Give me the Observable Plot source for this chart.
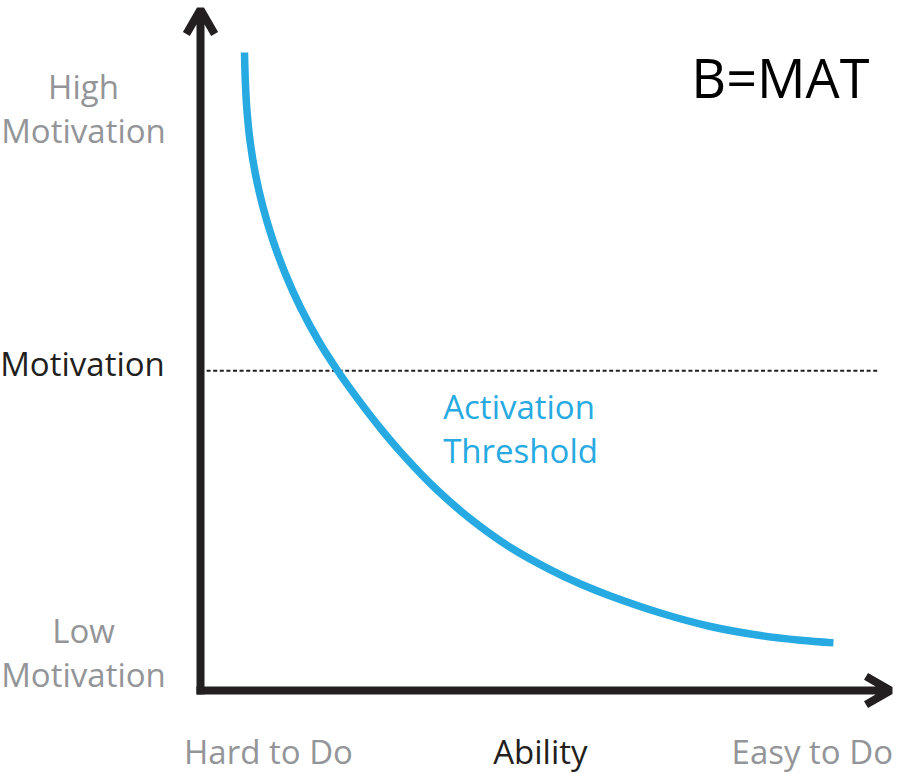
<!DOCTYPE html>
<html>
<head>
<meta charset="utf-8">
<script src="https://cdn.jsdelivr.net/npm/d3@7"></script>
<script src="https://cdn.jsdelivr.net/npm/@observablehq/plot@0.6"></script>
<style>
  html, body { margin: 0; padding: 0; background: #ffffff; }
  #chart svg { display: block; }
</style>
</head>
<body>
<div id="chart"></div>
<script>
// Activation threshold curve (ability 0–10, motivation 0–10)
const ability    = [0.647, 0.659, 0.680, 0.728, 0.806, 0.921, 1.066, 1.246, 1.471, 1.733, 2.015, 2.324, 2.648, 3.016, 3.457, 3.972, 4.560, 5.149, 5.590, 6.031, 6.767, 7.502, 8.238, 8.826, 9.311];
const motivation = [9.378, 8.967, 8.570, 8.085, 7.600, 7.100, 6.615, 6.130, 5.630, 5.145, 4.704, 4.272, 3.854, 3.425, 2.969, 2.521, 2.102, 1.773, 1.565, 1.389, 1.139, 0.941, 0.808, 0.738, 0.700];

// Current motivation level (dotted line)
const motivationLevel = 4.7;

// Axis labels
const motivationLabels = ["High\nMotivation", "Low\nMotivation"];
const motivationLabelLevels = [8.5, 0.5];
const motivationTitle = "Motivation";
const abilityLabels = ["Hard to Do", "Ability", "Easy to Do"];
const abilityLabelLevels = [1, 5, 9];
const chartTitle = "B=MAT";
const curveLabel = "Activation\nThreshold";

const curve = ability.map((a, i) => ({ability: a, motivation: motivation[i]}));
const axisArrows = [
  {x1: 0, y1: 0, x2: 0, y2: 10.01},
  {x1: 0, y1: 0, x2: 10.15, y2: 0}
];

const FONT = "'Open Sans', 'Noto Sans', sans-serif";
const BLUE = "#27aae1";
const INK = "#231f20";
const GREY = "#939598";

const chart = Plot.plot({
  width: 900,
  height: 773,
  marginLeft: 200,
  marginRight: 10,
  marginTop: 9,
  marginBottom: 83,
  style: {fontFamily: FONT, background: "#ffffff"},
  x: {domain: [0, 10.15], axis: null},
  y: {domain: [0, 10.01], axis: null},
  marks: [
    Plot.ruleY([motivationLevel], {
      x1: 0, x2: 10, stroke: INK, strokeWidth: 2, strokeDasharray: "4,2.6"
    }),
    Plot.line(curve, {
      x: "ability", y: "motivation", stroke: BLUE, strokeWidth: 7.5,
      curve: "catmull-rom", strokeLinecap: "butt"
    }),
    Plot.arrow(axisArrows, {
      x1: "x1", y1: "y1", x2: "x2", y2: "y2",
      stroke: INK, strokeWidth: 8, headLength: 5.3, headAngle: 60,
      insetStart: -4, strokeLinejoin: "miter", strokeLinecap: "butt"
    }),
    // left labels
    Plot.text(motivationLabels, {
      x: () => 0, y: (d, i) => motivationLabelLevels[i], text: d => d,
      dx: -117, dy: 30.5, textAnchor: "middle", lineAnchor: "bottom",
      lineHeight: 1.33, fontSize: 33, fill: GREY, fontFamily: FONT
    }),
    Plot.text([motivationTitle], {
      x: () => 0, y: () => motivationLevel, text: d => d,
      dx: -118, dy: 5, textAnchor: "middle", lineAnchor: "bottom",
      fontSize: 33, fill: INK, fontFamily: FONT
    }),
    // bottom labels
    Plot.text(abilityLabels, {
      x: (d, i) => abilityLabelLevels[i], y: () => 0, text: d => d,
      dy: 73, textAnchor: "middle", lineAnchor: "bottom",
      fontSize: 33, fill: (d, i) => i === 1 ? INK : GREY, fontFamily: FONT
    }),
    // curve label
    Plot.text([curveLabel], {
      x: () => 3.57, y: () => 3.35, text: d => d,
      textAnchor: "start", lineAnchor: "bottom", lineHeight: 1.33,
      fontSize: 33, fill: BLUE, fontFamily: FONT
    }),
    // title
    Plot.text([chartTitle], {
      frameAnchor: "top-right", text: d => d,
      dx: -21, dy: 88, textAnchor: "end", lineAnchor: "bottom",
      fontSize: 54, fill: "#000000", fontFamily: FONT
    })
  ]
});

document.getElementById("chart").appendChild(chart);
</script>
</body>
</html>
